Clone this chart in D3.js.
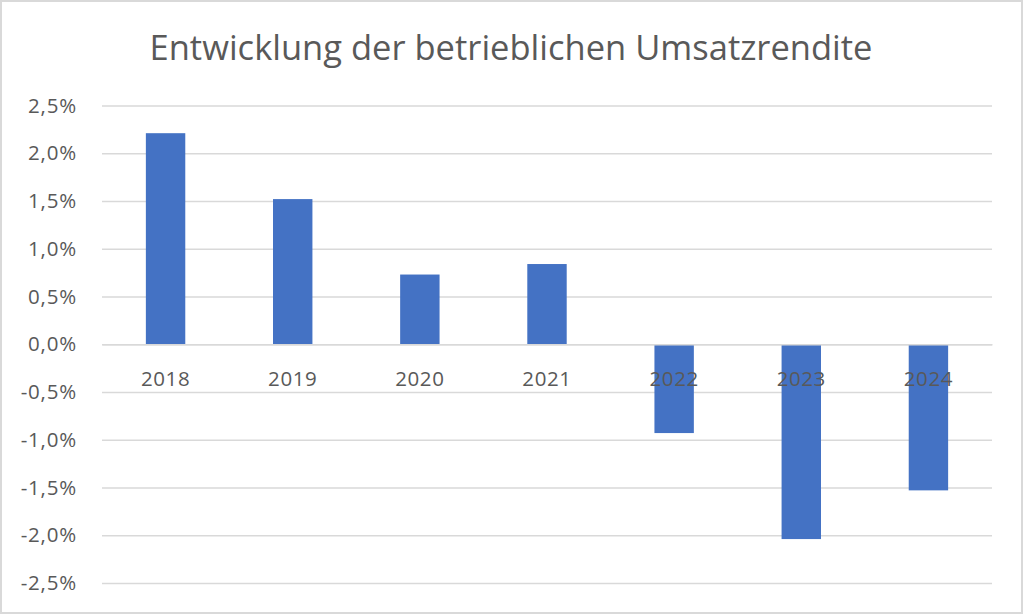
<!DOCTYPE html>
<html><head><meta charset="utf-8">
<script src="https://cdn.jsdelivr.net/npm/d3@7"></script>
<style>
body{margin:0;background:#fff;}
svg{display:block;font-family:"Open Sans",sans-serif;}
</style></head><body>
<script>
const title = "Entwicklung der betrieblichen Umsatzrendite";
const years = ["2018","2019","2020","2021","2022","2023","2024"];
const values = [0.0221, 0.0152, 0.0073, 0.0084, -0.0093, -0.0204, -0.0153];
const yTicks = [0.025,0.02,0.015,0.01,0.005,0,-0.005,-0.01,-0.015,-0.02,-0.025];

const W=1024,H=615;
const svg=d3.select("body").append("svg").attr("width",W).attr("height",H);
svg.append("rect").attr("x",1).attr("y",1).attr("width",W-3).attr("height",H-3)
  .attr("fill","#fff").attr("stroke","#d9d9d9").attr("stroke-width",2);

const x=d3.scaleBand().domain(years).range([102,992]).paddingInner(0.69).paddingOuter(0.345);
const y=d3.scaleLinear().domain([-0.025,0.025]).range([583,105.5]);
const fmt=v=>d3.format(".1%")(v).replace(".",",").replace("−","-");

const grid=svg.append("g").call(d3.axisLeft(y).tickValues(yTicks).tickSize(-(992-102)).tickFormat(fmt))
  .attr("transform","translate(102,0)");
grid.select(".domain").remove();
grid.selectAll(".tick line").attr("stroke","#d9d9d9").attr("stroke-width",1.5);
grid.selectAll(".tick text").attr("x",-25).attr("fill","#595959").attr("font-size",20.5)
  .attr("letter-spacing",0.8).attr("font-family","'Open Sans',sans-serif");

svg.append("g").selectAll("rect").data(values).join("rect")
  .attr("x",(d,i)=>x(years[i])).attr("width",x.bandwidth())
  .attr("y",d=>y(Math.max(0,d))).attr("height",d=>Math.abs(y(d)-y(0)))
  .attr("fill","#4472c4");

const xa=svg.append("g").attr("transform",`translate(0,${y(0)})`).call(d3.axisBottom(x).tickSize(0));
xa.select(".domain").attr("stroke","#d9d9d9").attr("stroke-width",1.5);
xa.selectAll(".tick text").attr("dy","0").attr("y",42).attr("fill","#595959").attr("font-size",20.5)
  .attr("letter-spacing",0.6).attr("font-family","'Open Sans',sans-serif");

svg.append("text").attr("x",511).attr("y",60).attr("text-anchor","middle")
  .attr("fill","#595959").attr("font-size",34.5).text(title);
</script></body></html>
